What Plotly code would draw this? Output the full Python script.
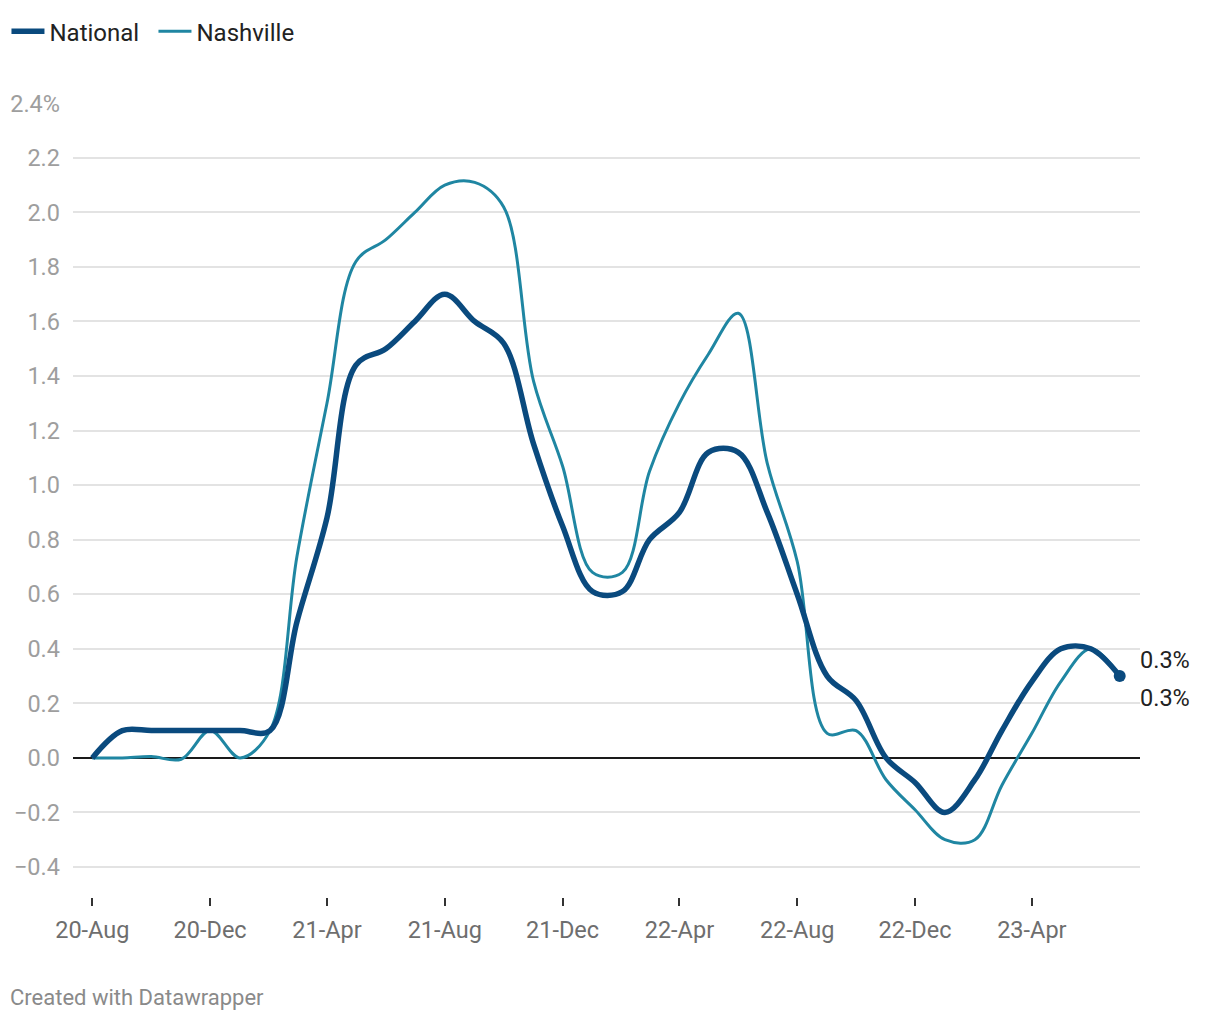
"""Monthly change, National vs Nashville (Datawrapper-style line chart)."""

import pandas as pd
import plotly.graph_objects as go

COLOR_NATIONAL = "#0a4a7e"
COLOR_NASHVILLE = "#1f86a2"
COLOR_GRID = "#e3e3e3"
COLOR_TEXT = "#222222"
COLOR_YTICK = "#9e9e9e"
COLOR_XTICK = "#6e6e6e"
FONT = "Roboto, sans-serif"

months = pd.date_range("2020-08-01", "2023-07-01", freq="MS")

national = [
    0.0, 0.1, 0.1, 0.1, 0.1,
    0.1, 0.1, 0.5, 0.88, 1.44, 1.5, 1.6, 1.7, 1.6, 1.52, 1.15, 0.85,
    0.61, 0.61, 0.8, 0.9, 1.12, 1.12, 0.9, 0.6, 0.3, 0.21, 0.0, -0.09,
    -0.2, -0.08, 0.1, 0.28, 0.4, 0.4, 0.3,
]
nashville = [
    0.0, 0.0, 0.005, -0.005, 0.1,
    0.0, 0.1, 0.74, 1.3, 1.82, 1.9, 2.0, 2.1, 2.11, 2.02, 1.38, 1.07,
    0.68, 0.68, 1.05, 1.3, 1.48, 1.63, 1.08, 0.72, 0.09, 0.1, -0.08, -0.19,
    -0.3, -0.3, -0.1, 0.09, 0.28, 0.4, 0.3,
]

y_ticks = [-0.4, -0.2, 0.0, 0.2, 0.4, 0.6, 0.8, 1.0, 1.2, 1.4, 1.6, 1.8, 2.0, 2.2, 2.4]
y_labels = ["\u22120.4", "\u22120.2", "0.0", "0.2", "0.4", "0.6", "0.8", "1.0",
            "1.2", "1.4", "1.6", "1.8", "2.0", "2.2", "2.4%"]
x_ticks = ["2020-08-01", "2020-12-01", "2021-04-01", "2021-08-01", "2021-12-01",
           "2022-04-01", "2022-08-01", "2022-12-01", "2023-04-01"]

fig = go.Figure()
fig.add_trace(
    go.Scatter(
        x=months, y=nashville, name="Nashville", mode="lines",
        line={"color": COLOR_NASHVILLE, "width": 3, "shape": "spline", "smoothing": 1},
    )
)
fig.add_trace(
    go.Scatter(
        x=months, y=national, name="National", mode="lines",
        line={"color": COLOR_NATIONAL, "width": 5.5, "shape": "spline", "smoothing": 1},
    )
)
fig.add_trace(
    go.Scatter(
        x=[months[-1]], y=[national[-1]], mode="markers", showlegend=False,
        marker={"color": COLOR_NATIONAL, "size": 12}, cliponaxis=False,
    )
)

# end labels
fig.add_annotation(x=months[-1], y=national[-1], text=f"{national[-1]:.1f}%",
                   xanchor="left", xshift=18, yshift=16, showarrow=False,
                   font={"size": 23.5, "color": COLOR_TEXT})
fig.add_annotation(x=months[-1], y=nashville[-1], text=f"{nashville[-1]:.1f}%",
                   xanchor="left", xshift=18, yshift=-22, showarrow=False,
                   font={"size": 23.5, "color": COLOR_TEXT})
fig.add_annotation(xref="paper", yref="paper", x=-0.0605, y=-0.126,
                   xanchor="left", yanchor="middle", showarrow=False,
                   text="Created with Datawrapper",
                   font={"size": 22, "color": "#8a8a8a"})

fig.update_layout(
    width=1220, height=1020,
    paper_bgcolor="#ffffff", plot_bgcolor="#ffffff",
    font={"family": FONT, "color": COLOR_TEXT, "size": 23.5},
    margin={"l": 73, "r": 80, "t": 103, "b": 123, "autoexpand": False},
    showlegend=True,
    legend={
        "orientation": "h", "xref": "container", "yref": "container",
        "x": 0.0053, "y": 0.991, "xanchor": "left", "yanchor": "top",
        "itemwidth": 33, "entrywidth": 99, "entrywidthmode": "pixels",
        "font": {"size": 24, "color": COLOR_TEXT}, "traceorder": "reversed",
        "bgcolor": "rgba(0,0,0,0)",
    },
)
fig.update_xaxes(
    type="date", range=["2020-07-12", "2023-07-22"],
    tickvals=x_ticks, tickformat="%y-%b",
    ticks="outside", ticklen=8, tickwidth=2, tickcolor="#333333",
    ticklabelstandoff=4, automargin=False,
    tickfont={"size": 23.5, "color": COLOR_XTICK},
    showgrid=False, showline=False, zeroline=False,
)
fig.update_yaxes(
    range=[-0.51, 2.401], tickvals=y_ticks, ticktext=y_labels,
    tickfont={"size": 23.5, "color": COLOR_YTICK},
    ticks="", ticklabelstandoff=12, automargin=False,
    showgrid=True, gridcolor=COLOR_GRID, gridwidth=1.5,
    zeroline=True, zerolinecolor="#1a1a1a", zerolinewidth=2,
    showline=False,
)

# drop the default page margin so the figure sits flush with the window
fig.write_html("out.html", config={"displayModeBar": False},
               post_script="document.body.style.margin='0';")
